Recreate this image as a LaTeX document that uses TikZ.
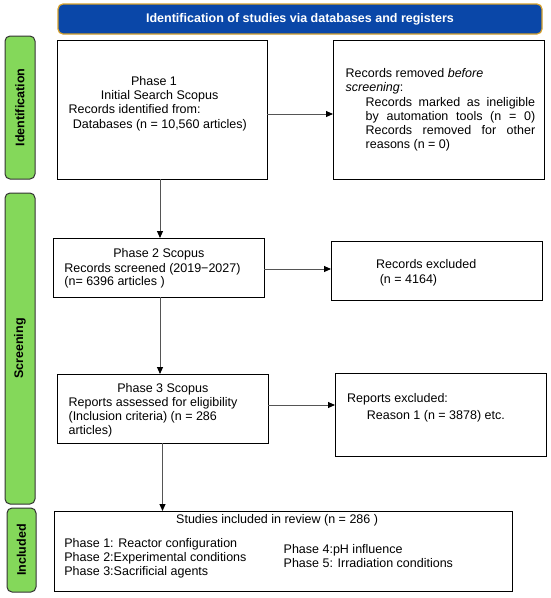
\documentclass[tikz,border=0pt]{standalone}
\usepackage{fontspec}
\setmainfont{Liberation Sans}
\usetikzlibrary{arrows.meta}
\definecolor{hdrblue}{HTML}{0A47A8}
\definecolor{hdrgold}{HTML}{D6A12B}
\definecolor{stagegreen}{HTML}{84D85A}
\definecolor{linegray}{HTML}{555555}
\tikzset{
  box/.style={draw=black, line width=1pt, inner sep=0pt, outer sep=0pt},
  stage/.style={draw=black!80, fill=stagegreen, line width=1pt, rounded corners=5pt, inner sep=0pt, outer sep=0pt},
  stagetxt/.style={rotate=90, font=\fontsize{12.5}{14}\selectfont\bfseries, inner sep=0pt},
  txt/.style={font=\fontsize{12.5}{14.3}\selectfont, inner sep=0pt, anchor=base west},
  ctxt/.style={font=\fontsize{12.5}{14.3}\selectfont, inner sep=0pt, anchor=base},
  flow/.style={draw=linegray, line width=0.9pt, -{Triangle[length=7pt,width=6pt,color=black]}}
}
\begin{document}
\begin{tikzpicture}[x=1pt,y=-1pt]
\useasboundingbox (0,0) rectangle (550,598);
% header
\node[draw=hdrgold, fill=hdrblue, line width=1.2pt, rounded corners=5pt, minimum width=484pt, minimum height=30pt, inner sep=0pt,
      text=white, font=\fontsize{12.5}{14}\selectfont\bfseries] (hdr) at (300,19) {Identification of studies via databases and registers};
% stage labels
\node[stage, minimum width=30pt, minimum height=143pt] (sid) at (20,107.5) {};
\node[stagetxt] (sidt) at (sid.center) {Identification};
\node[stage, minimum width=30pt, minimum height=311pt] (ssc) at (20,348.5) {};
\node[stagetxt] (ssct) at (ssc.center) {Screening};
\node[stage, minimum width=29pt, minimum height=84pt] (sin) at (21.5,550) {};
\node[stagetxt] (sint) at (sin.center) {Included};
% boxes
\node[box, minimum width=210pt, minimum height=139pt] (p1) at (162,109.5) {};
\node[box, minimum width=211pt, minimum height=139pt] (rem) at (438.5,109.5) {};
\node[box, minimum width=211pt, minimum height=59pt] (p2) at (158.5,267.5) {};
\node[box, minimum width=211pt, minimum height=59pt] (exc) at (436.5,270.5) {};
\node[box, minimum width=211pt, minimum height=69pt] (p3) at (162.5,408.5) {};
\node[box, minimum width=211pt, minimum height=83pt] (rex) at (440.5,414.5) {};
\node[box, minimum width=458pt, minimum height=80pt] (inc) at (283.5,551) {};
% phase 1 text
\node[ctxt] (p1a) at (154,85) {Phase 1};
\node[ctxt] (p1b) at (159.6,99) {Initial Search Scopus};
\node[txt] (p1c) at (68.4,113.5) {Records identified from:};
\node[txt] (p1d) at (72.6,128) {Databases (n = 10,560 articles)};
% removed text
\node[txt] (r1) at (345.5,77) {Records removed \textit{before}};
\node[txt] (r2) at (345.5,91.5) {\textit{screening}:};
\node[txt] (r3) at (365.5,106) {\makebox[169.5pt][s]{Records marked as ineligible}};
\node[txt] (r4) at (365.5,120) {\makebox[169.5pt][s]{by automation tools (n = 0)}};
\node[txt] (r5) at (365.5,134) {\makebox[169.5pt][s]{Records removed for other}};
\node[txt] (r6) at (365.5,148) {reasons (n = 0)};
% phase 2 text
\node[ctxt] (p2a) at (158.8,257) {Phase 2 Scopus};
\node[txt] (p2b) at (64.2,272) {Records screened (2019−2027)};
\node[txt] (p2c) at (64.2,285.5) {(n= 6396 articles )};
% excluded text
\node[txt] (e1) at (376,268.5) {Records excluded};
\node[txt] (e2) at (379.6,283) {(n = 4164)};
% phase 3 text
\node[ctxt] (p3a) at (162.8,392) {Phase 3 Scopus};
\node[txt] (p3b) at (68.4,406) {Reports assessed for eligibility};
\node[txt] (p3c) at (68.4,420) {(Inclusion criteria) (n = 286};
\node[txt] (p3d) at (68.4,434) {articles)};
% reports excluded text
\node[txt] (x1) at (347,402.5) {Reports excluded:};
\node[txt] (x2) at (366.7,419.5) {Reason 1 (n = 3878) etc.};
% included text
\node[txt] (i0) at (176,523.5) {Studies included in review (n = 286 )};
\node[txt] (i1) at (64.2,547.5) {Phase 1: Reactor configuration};
\node[txt] (i2) at (64.2,561.5) {Phase 2:Experimental conditions};
\node[txt] (i3) at (64.2,575.5) {Phase 3:Sacrificial agents};
\node[txt] (i4) at (283.5,553.5) {Phase 4:pH influence};
\node[txt] (i5) at (283.5,567.5) {Phase 5: Irradiation conditions};
% connectors
\draw[flow] ([yshift=-4.5pt]p1.east) -- ([yshift=-4.5pt]p1.east -| rem.west);
\draw[flow] ([xshift=-2pt]p1.south) -- ([xshift=-2pt]p1.south |- p2.north);
\draw[flow] ([yshift=-1.5pt]p2.east) -- ([yshift=-1.5pt]p2.east -| exc.west);
\draw[flow] ([xshift=1.5pt]p2.south) -- ([xshift=1.5pt]p2.south |- p3.north);
\draw[flow] ([yshift=3.5pt]p3.east) -- ([yshift=3.5pt]p3.east -| rex.west);
\draw[flow] (p3.south) -- (p3.south |- inc.north);
\end{tikzpicture}
\end{document}
